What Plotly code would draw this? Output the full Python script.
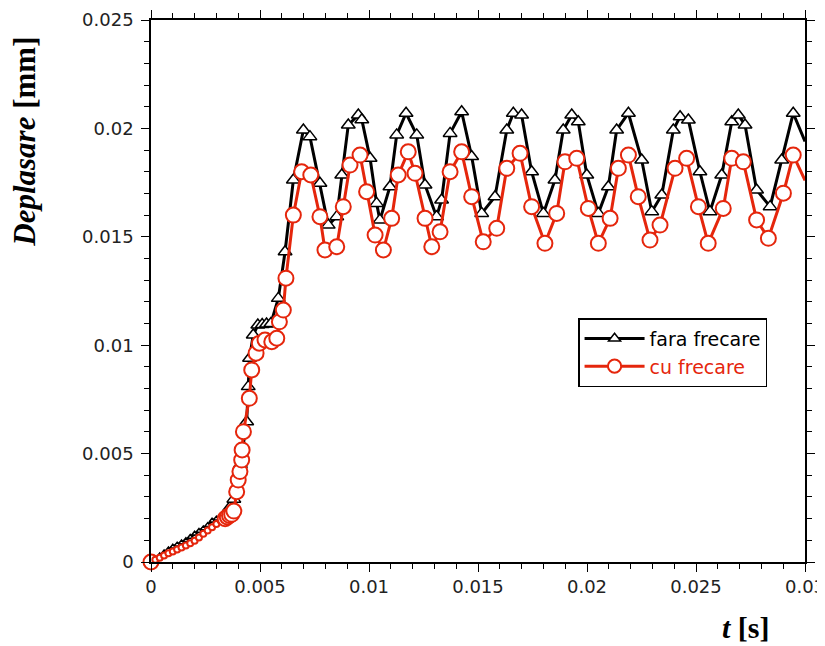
import plotly.graph_objects as go

# ---- data ----
t_fara = [0, 0.0002, 0.0004, 0.0006, 0.0008, 0.001, 0.0012, 0.0014, 0.0016, 0.0018, 0.002,
          0.0022, 0.0024, 0.0026, 0.0028, 0.003, 0.0032, 0.0034, 0.0036,
          0.0038, 0.0041, 0.00439, 0.00446, 0.00452, 0.00469, 0.0049, 0.0051, 0.0053, 0.0055,
          0.00584, 0.00615, 0.00653, 0.00699, 0.00729, 0.00775, 0.00813, 0.00852, 0.00875,
          0.00905, 0.00951, 0.00967, 0.01005, 0.01035, 0.0105, 0.01096, 0.01127, 0.0117,
          0.01219, 0.01257, 0.0131, 0.01333, 0.01372, 0.01425, 0.01471, 0.01517, 0.01578,
          0.01632, 0.01662, 0.017, 0.01746, 0.018, 0.01853, 0.01891, 0.0193, 0.0196, 0.01999,
          0.02052, 0.02098, 0.02136, 0.0219, 0.02251, 0.02297, 0.02343, 0.02396, 0.02427,
          0.02465, 0.02518, 0.02564, 0.02618, 0.02664, 0.02694, 0.02725, 0.02778, 0.0284,
          0.02893, 0.02946, 0.03]
d_fara = [0, 0.00015, 0.0003, 0.00044, 0.00058, 0.0007, 0.0008, 0.0009, 0.001, 0.00115, 0.0013,
          0.00143, 0.00155, 0.0017, 0.0019, 0.002, 0.00215, 0.0023, 0.0025,
          0.0029, 0.0045, 0.00647, 0.00809, 0.0094, 0.01047, 0.01093, 0.01095, 0.01098, 0.011,
          0.01216, 0.01431, 0.01762, 0.01993, 0.01962, 0.01747, 0.01554, 0.01593, 0.01785,
          0.02016, 0.02062, 0.0204, 0.01862, 0.01654, 0.01577, 0.01731, 0.0197, 0.0207,
          0.0197, 0.01739, 0.01593, 0.0167, 0.01977, 0.02077, 0.0187, 0.01608, 0.01685,
          0.01993, 0.0207, 0.02062, 0.018, 0.01608, 0.01762, 0.01993, 0.02062, 0.02031, 0.01785,
          0.01608, 0.01731, 0.01993, 0.0207, 0.01854, 0.01616, 0.01693, 0.01993, 0.02054,
          0.02039, 0.018, 0.01616, 0.01785, 0.02031, 0.02062, 0.02016, 0.01716, 0.01639,
          0.01854, 0.0207, 0.0194]

t_cu = [0, 0.0002, 0.0004, 0.0006, 0.0008, 0.001, 0.0012, 0.0014, 0.0016, 0.0018, 0.002,
        0.0022, 0.0024, 0.0026, 0.0028, 0.003, 0.0032, 0.0034, 0.0035,
        0.0036, 0.0037, 0.0038, 0.00393, 0.004, 0.00408, 0.00416, 0.00418, 0.00424, 0.00451,
        0.00462, 0.00482, 0.00497, 0.00523, 0.00554, 0.00577, 0.00589, 0.00607, 0.00619,
        0.00653, 0.00691, 0.00733, 0.00775, 0.00798, 0.00852, 0.00882, 0.00913, 0.00959,
        0.00989, 0.01028, 0.01066, 0.01104, 0.01134, 0.0118, 0.01211, 0.01257, 0.01288,
        0.01326, 0.01372, 0.01425, 0.01471, 0.01524, 0.01586, 0.01632, 0.01693, 0.01746,
        0.01807, 0.01861, 0.01899, 0.01953, 0.02006, 0.02052, 0.02106, 0.02144, 0.0219,
        0.02235, 0.02289, 0.02335, 0.02404, 0.02457, 0.02511, 0.02556, 0.02625, 0.02664,
        0.02717, 0.02778, 0.02832, 0.02901, 0.02946, 0.03]
d_cu = [0, 0.0001, 0.0002, 0.0003, 0.0004, 0.00048, 0.00058, 0.00067, 0.00076, 0.00087, 0.00098,
        0.00113, 0.0013, 0.00145, 0.0016, 0.00175, 0.0019, 0.002, 0.00208,
        0.00215, 0.0022, 0.00235, 0.00324, 0.00378, 0.00417, 0.0047, 0.00517, 0.00601, 0.00755,
        0.00886, 0.00963, 0.01009, 0.01024, 0.01016, 0.01032, 0.01108, 0.01162, 0.01309,
        0.016, 0.018, 0.01785, 0.01593, 0.01439, 0.01454, 0.01639, 0.01831, 0.01877,
        0.01708, 0.01508, 0.01439, 0.01585, 0.01785, 0.01892, 0.01793, 0.01585, 0.01454,
        0.01523, 0.018, 0.01892, 0.01685, 0.01477, 0.01539, 0.01816, 0.01885, 0.01639,
        0.0147, 0.01608, 0.01846, 0.01862, 0.01631, 0.0147, 0.01585, 0.01816, 0.01877,
        0.01685, 0.01485, 0.01554, 0.01816, 0.01862, 0.01639, 0.0147, 0.01631, 0.01862,
        0.01846, 0.01578, 0.01493, 0.01701, 0.01877, 0.0176]

x_ticks = [0, 0.005, 0.01, 0.015, 0.02, 0.025, 0.03]
x_labels = ["0", "0.005", "0.01", "0.015", "0.02", "0.025", "0.03"]
y_ticks = [0, 0.005, 0.01, 0.015, 0.02, 0.025]
y_labels = ["0", "0.005", "0.01", "0.015", "0.02", "0.025"]

BLACK = "#000000"
RED = "#e5260c"


def sizes(ts, big, small, early_end):
    out = []
    for i, t in enumerate(ts):
        if i == len(ts) - 1:
            out.append(0)
        elif 0 < t < early_end:
            out.append(small)
        else:
            out.append(big)
    return out


sz_f = sizes(t_fara, 12, 5, 0.0035)
sz_c = sizes(t_cu, 15, 6, 0.0033)

fig = go.Figure()
fig.add_trace(go.Scatter(
    x=t_fara, y=d_fara, mode="lines+markers", name="fara frecare",
    line=dict(color=BLACK, width=3),
    marker=dict(symbol="triangle-up", size=sz_f, color="white", opacity=1,
                line=dict(color=BLACK, width=1.5)),
    cliponaxis=False,
))
fig.add_trace(go.Scatter(
    x=t_cu, y=d_cu, mode="lines+markers",
    name="<span style='color:%s'>cu frecare</span>" % RED,
    line=dict(color=RED, width=3),
    marker=dict(symbol="circle", size=sz_c, color="white", opacity=1,
                line=dict(color=RED, width=2)),
    cliponaxis=False,
))

axis_common = dict(
    showline=True, linecolor="black", linewidth=1.5, mirror="allticks",
    ticks="outside", ticklen=8, tickwidth=1.2, tickcolor="black",
    showgrid=False, zeroline=False, automargin=False,
    ticklabeloverflow="allow",
    tickfont=dict(family="DejaVu Sans", size=18, color="#222"),
)

fig.update_xaxes(range=[0, 0.03], tickvals=x_ticks, ticktext=x_labels,
                 minor=dict(ticks="outside", dtick=0.001, ticklen=5, tickcolor="black",
                            tickwidth=1.2),
                 **axis_common)
fig.update_yaxes(range=[0, 0.025], tickvals=y_ticks, ticktext=y_labels,
                 ticklabelstandoff=4,
                 minor=dict(ticks="outside", dtick=0.001, ticklen=5, tickcolor="black",
                            tickwidth=1.2),
                 **axis_common)

fig.add_annotation(
    text="<b><i>Deplasare</i> [mm]</b>", xref="paper", yref="paper",
    x=-0.193, y=0.775, xanchor="center", yanchor="middle",
    textangle=-90, showarrow=False,
    font=dict(family="Liberation Serif, Times New Roman", size=31, color="black"),
)
fig.add_annotation(
    text="<b><i>t</i> [s]</b>", xref="paper", yref="paper",
    x=0.91, y=-0.121, xanchor="center", yanchor="middle", showarrow=False,
    font=dict(family="Liberation Serif, Times New Roman", size=30, color="black"),
)

# page body has an 8px default margin, so margins are offset to keep the plot area in place
fig.update_layout(
    width=825, height=646,
    margin=dict(l=143, r=28, t=12, b=92, autoexpand=False),
    plot_bgcolor="white", paper_bgcolor="white",
    showlegend=True,
    legend=dict(x=0.653, y=0.45, xanchor="left", yanchor="top",
                bgcolor="white", bordercolor="black", borderwidth=1.5,
                font=dict(family="DejaVu Sans", size=19, color="black"),
                itemwidth=60, tracegroupgap=0),
)

fig.write_html("out.html")
